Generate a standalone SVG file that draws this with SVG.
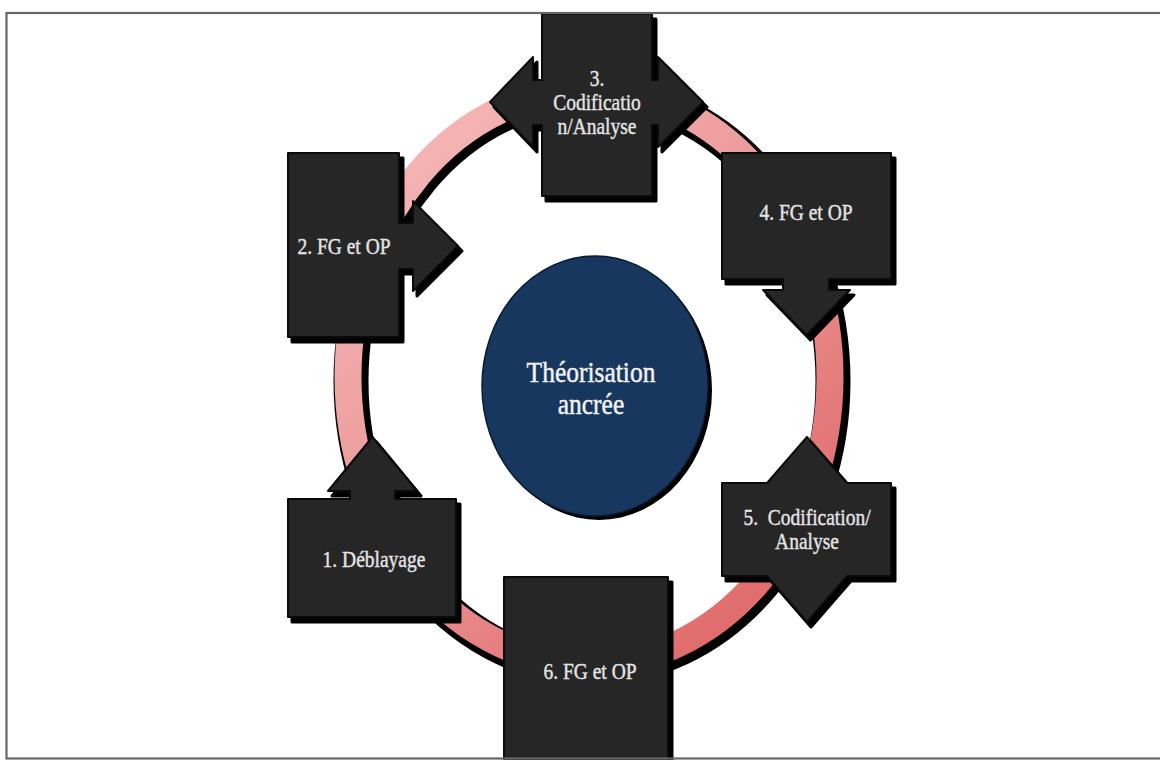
<svg xmlns="http://www.w3.org/2000/svg" xmlns:xlink="http://www.w3.org/1999/xlink" width="1160" height="760" viewBox="0 0 1160 760">
  <style>
    .shadow { fill: #000; stroke: #000; stroke-width: 3; stroke-linejoin: round; }
    .box { fill: #262626; stroke: #0a0a0a; stroke-width: 2; stroke-linejoin: round; }
    .lbl { font-family: "Liberation Serif", "DejaVu Serif", serif; font-size: 19.5px; fill: #e4e4e4; stroke: #e4e4e4; stroke-width: 0.35; text-anchor: middle; }
    .core { font-family: "Liberation Serif", "DejaVu Serif", serif; font-size: 25.5px; fill: #f2f2f2; stroke: #f2f2f2; stroke-width: 0.4; text-anchor: middle; }
    .frame { fill: none; stroke: #666; stroke-width: 2.2; }
  </style>
  <defs>
    <linearGradient id="ringGrad" gradientUnits="userSpaceOnUse" x1="350" y1="100" x2="830" y2="660">
      <stop offset="0" stop-color="#f7bdbd"/>
      <stop offset="0.5" stop-color="#eb9494"/>
      <stop offset="1" stop-color="#dd5f5f"/>
    </linearGradient>
    <!-- node outlines: box plus arrow heads -->
    <path id="shape1" d="M288,499 H350 V491 H328 L372.5,437 L417,491 H395 V499 H456 V617 H288 Z"/>
    <path id="shape2" d="M288,153 H399 V223 H413 V201 L458,246 L413,291 V269 H399 V337 H288 Z"/>
    <path id="shape3" d="M542,14 H652 V80 H658 V57 L703,102 L658,147 V125 H652 V196 H542 V125 H533 V147 L490,102 L533,57 V80 H542 Z"/>
    <path id="shape4" d="M722,153 H891 V279 H829 V290 H850 L806.5,335 L763,290 H783 V279 H722 Z"/>
    <path id="shape5" d="M722,483 H767 L807,437 L847,483 H891 V576 H847 L807,622 L767,576 H722 Z"/>
    <path id="shape6" d="M504,577 H668 V775 H504 Z"/>
  </defs>

  <rect x="0" y="0" width="1160" height="760" fill="#fff"/>

  <!-- cycle ring -->
  <g id="connectors">
    <ellipse cx="592" cy="381" rx="241" ry="287" fill="none" stroke="#000" stroke-width="35"/>
    <ellipse cx="589" cy="377" rx="241" ry="287" fill="none" stroke="url(#ringGrad)" stroke-width="27"/>
  </g>

  <!-- centre -->
  <g id="center">
    <ellipse cx="599" cy="390" rx="113" ry="130" fill="#000"/>
    <ellipse cx="595" cy="386" rx="113" ry="130" fill="#17375e" stroke="#0b1a2e" stroke-width="1.5"/>
    <text class="core" transform="translate(591,382) scale(1,1.18)">Théorisation</text>
    <text class="core" transform="translate(591,414) scale(1,1.18)">ancrée</text>
  </g>

  <g id="node1">
    <use xlink:href="#shape1" class="shadow" transform="translate(4,5)"/>
    <use xlink:href="#shape1" class="box"/>
    <text class="lbl" transform="translate(374,567) scale(1,1.18)">1. Déblayage</text>
  </g>

  <g id="node2">
    <use xlink:href="#shape2" class="shadow" transform="translate(4,5)"/>
    <use xlink:href="#shape2" class="box"/>
    <text class="lbl" transform="translate(344,254) scale(1,1.18)">2. FG et OP</text>
  </g>

  <g id="node3">
    <use xlink:href="#shape3" class="shadow" transform="translate(4,5)"/>
    <use xlink:href="#shape3" class="box"/>
    <text class="lbl" transform="translate(597,86) scale(1,1.18)">3.</text>
    <text class="lbl" transform="translate(597,110) scale(1,1.18)">Codificatio</text>
    <text class="lbl" transform="translate(597,134) scale(1,1.18)">n/Analyse</text>
  </g>

  <g id="node4">
    <use xlink:href="#shape4" class="shadow" transform="translate(4,5)"/>
    <use xlink:href="#shape4" class="box"/>
    <text class="lbl" transform="translate(806,220) scale(1,1.18)">4. FG et OP</text>
  </g>

  <g id="node5">
    <use xlink:href="#shape5" class="shadow" transform="translate(4,5)"/>
    <use xlink:href="#shape5" class="box"/>
    <text class="lbl" transform="translate(807,525) scale(1,1.18)">5.&#160; Codification/</text>
    <text class="lbl" transform="translate(807,549) scale(1,1.18)">Analyse</text>
  </g>

  <g id="node6">
    <use xlink:href="#shape6" class="shadow" transform="translate(4,5)"/>
    <use xlink:href="#shape6" class="box"/>
    <text class="lbl" transform="translate(590,679) scale(1,1.18)">6. FG et OP</text>
  </g>

  <!-- page frame -->
  <rect class="frame" x="6.5" y="13" width="1170" height="745.5"/>
</svg>
